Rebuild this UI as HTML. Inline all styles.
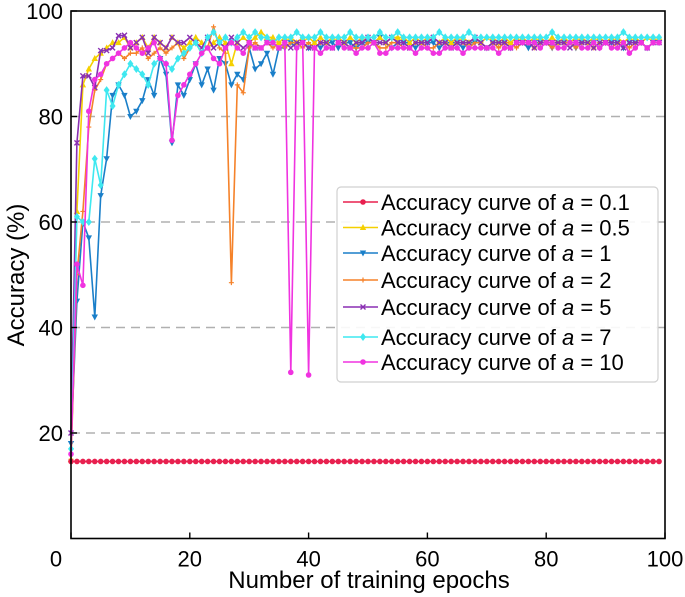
<!DOCTYPE html>
<html><head><meta charset="utf-8"><style>
body{margin:0;background:#fff;}
svg{display:block;font-family:"Liberation Sans",sans-serif;}
</style></head><body>
<svg id="chart" width="685" height="597" viewBox="0 0 685 597"></svg>
<script>
const epochs = Array.from({length:100},(_, i)=>i);
const xTicks = [0,20,40,60,80,100];
const yTicks = [20,40,60,80,100];
const yGrid = [20,40,60,80];
const labels = ["0.1","0.5","1","2","5","7","10"];
const colors = ["#e8204f","#f5d000","#1a7fc9","#f5822a","#8a2fb3","#3ee8f0","#f033e0"];
const markers = ["dot","tri-up","tri-down","plus","x","diamond","dot"];
const aRed = Array(100).fill(14.6);
const aYellow = [15,62,86,89,91,92,93,94,94,95,93,94,95,93,95,94,93,95,94,93,94,95,94,93,94,95,94,90,94,95,94,95,96,95,95,94,95,95,94,95,95,94,95,94,95,95,94,95,94,95,95,94,95,94,95,95,95,94,95,94,95,95,94,95,94,95,95,94,95,94,95,95,94,95,94,95,95,94,95,95,94,95,94,95,94,95,95,94,95,95,94,95,95,94,95,95,94,95,95,95];
const aBlue = [18,45,60,57,42,65,72,84,86,84,80,81,83,87,84,91,88,75,86,84,87,90,86,89,85,91,90,86,88,87,93,89,90,92,88,93,93,94,93,94,93,94,93,94,94,93,94,94,93,94,94,94,95,94,93,94,94,94,93,94,94,94,93,94,94,94,93,94,94,94,93,94,94,94,93,94,94,93,94,94,94,93,94,94,94,93,94,94,94,93,94,94,94,93,94,94,94,93,94,94];
const aOrange = [15,50,62,78,85,87,90,91,92,91,92,92,93,91,92,93,92,93,94,91,93,94,92,93,97,93,92,48.5,86,84.5,93,94,93,94,93,94,93,94,94,93,94,93,94,94,93,94,94,93,93,93,94,94,93,93,94,94,93,93,94,94,93,93,94,94,93,94,94,93,94,94,93,94,93,94,94,93,94,94,93,94,94,93,94,94,94,93,94,94,93,94,94,93,94,94,93,94,94,93,94,94];
const aPurple = [20,75,87.7,87.7,85.5,92.5,92.5,93,95.3,95.4,93,94,95,92,95,94,93,95,94,94,95,94,93,95,93,94,93,95,94,93,94,93,93,94,94,93,94,93,94,94,93,93,94,94,93,94,94,93,94,94,95,94,94,94,95,94,94,93,94,94,94,95,94,94,93,94,94,94,95,94,93,94,94,94,93,94,94,94,93,94,94,94,94,94,93,94,94,94,93,94,94,94,94,93,94,94,94,93,94,94];
const aCyan = [17,61,60,60,72,67,85,82,86,88,90,89,88,86,90,91,90,89,91,92,93,94,92,95,96,94,95,94,95,96,95,96,95,95,94,95,95,95,96,95,95,95,96,95,95,95,95,96,95,95,95,95,96,95,95,96,95,95,95,95,95,95,96,95,95,95,95,96,95,95,95,95,95,95,95,95,95,95,95,95,95,96,95,95,95,95,95,95,95,95,95,95,95,96,95,95,95,95,95,95];
const aMagenta = [16,52,48,81,87,88,90,91,92,93,94,93,92,93,94,91,90,75.5,84,86,88,90,92,93,91,90,93,94,93,92,94,93,93,94,94,93,94,31.5,93,94,31,93,92,93,93,94,93,93,92,93,93,94,92,92,93,93,93,93,92,93,93,92,92,93,93,93,92,93,93,93,93,93,92,93,93,94,94,94,94,93,94,94,93,93,94,94,93,93,94,93,94,93,93,94,92,93,94,93,94,94];
const series = [aRed,aYellow,aBlue,aOrange,aPurple,aCyan,aMagenta];

const L=71,R=665,T=11,B=538.5;
const xs=v=>L+(v/100)*(R-L);
const ys=v=>B-(v/100)*(B-T);
const svg=document.getElementById('chart');
const NS="http://www.w3.org/2000/svg";
function mk(tag,attrs,parent){const e=document.createElementNS(NS,tag);for(const k in attrs)e.setAttribute(k,attrs[k]);(parent||svg).appendChild(e);return e;}

yGrid.forEach(v=>{
  const g=mk('line',{x1:L,x2:R,y1:ys(v),y2:ys(v),stroke:'#b0b0b0','stroke-width':1.6,'stroke-dasharray':'9,6'});
  
  
});

function marker(type,x,y,c,parent){
  let e;
  if(type==='dot') e=mk('circle',{cx:x,cy:y,r:2.8,fill:c},parent);
  else if(type==='tri-up') e=mk('path',{d:`M${x},${y-3.5}L${x+3.2},${y+2.5}L${x-3.2},${y+2.5}Z`,fill:c},parent);
  else if(type==='tri-down') e=mk('path',{d:`M${x},${y+3.5}L${x+3.2},${y-2.5}L${x-3.2},${y-2.5}Z`,fill:c},parent);
  else if(type==='diamond') e=mk('path',{d:`M${x},${y-4}L${x+3},${y}L${x},${y+4}L${x-3},${y}Z`,fill:c},parent);
  else if(type==='plus') e=mk('path',{d:`M${x-2.5},${y}H${x+2.5}M${x},${y-2.5}V${y+2.5}`,stroke:c,'stroke-width':1.2},parent);
  else e=mk('path',{d:`M${x-2.5},${y-2.5}L${x+2.5},${y+2.5}M${x-2.5},${y+2.5}L${x+2.5},${y-2.5}`,stroke:c,'stroke-width':1.4},parent);
  return e;
}

const order=[2,3,1,4,5,6,0];
order.forEach(si=>{
  const g=mk('g',{});
  
  
  const d=series[si].map((v,i)=>(i?'L':'M')+xs(epochs[i]).toFixed(1)+','+ys(v).toFixed(1)).join('');
  mk('path',{d:d,fill:'none',stroke:colors[si],'stroke-width':1.6,'stroke-linejoin':'round'},g);
  series[si].forEach((v,i)=>{
    const m=marker(markers[si],xs(epochs[i]),ys(v),colors[si],g);
    
    
  });
});

const frame=mk('rect',{x:L,y:T,width:R-L,height:B-T,fill:'none',stroke:'#000','stroke-width':1.6});



xTicks.forEach(v=>{
  mk('line',{x1:xs(v),x2:xs(v),y1:B,y2:B-6,stroke:'#000','stroke-width':1.4});
  const t=mk('text',{x:v===0?56:xs(v),y:B+28,'text-anchor':'middle','font-size':22});
  t.textContent=v;
  
  
});
yTicks.forEach(v=>{
  mk('line',{x1:L,x2:L+6,y1:ys(v),y2:ys(v),stroke:'#000','stroke-width':1.4});
  const t=mk('text',{x:L-8,y:ys(v)+8,'text-anchor':'end','font-size':22});
  t.textContent=v;
  
  
});
const xt=mk('text',{x:369,y:588,'text-anchor':'middle','font-size':24});
xt.textContent='Number of training epochs';


const yt=mk('text',{x:0,y:0,'text-anchor':'middle','font-size':24,transform:'translate(24,275) rotate(-90)'});
yt.textContent='Accuracy (%)';



const legendY=[202,227.5,253,280,307,337,362];
const lg=mk('g',{});


mk('rect',{x:337,y:187,width:321,height:195,rx:4,fill:'#fff','fill-opacity':0.9,stroke:'#d0d0d0','stroke-width':1.2},lg);
labels.forEach((lab,i)=>{
  const y=legendY[i];
  const e=mk('g',{},lg);
  
  
  mk('line',{x1:343,x2:378,y1:y,y2:y,stroke:colors[i],'stroke-width':1.6},e);
  marker(markers[i],363,y,colors[i],e);
  const t=mk('text',{x:381,y:y+8,'font-size':22},e);
  t.innerHTML='Accuracy curve of <tspan font-style="italic">a</tspan> = '+lab;
});
</script>
</body></html>
